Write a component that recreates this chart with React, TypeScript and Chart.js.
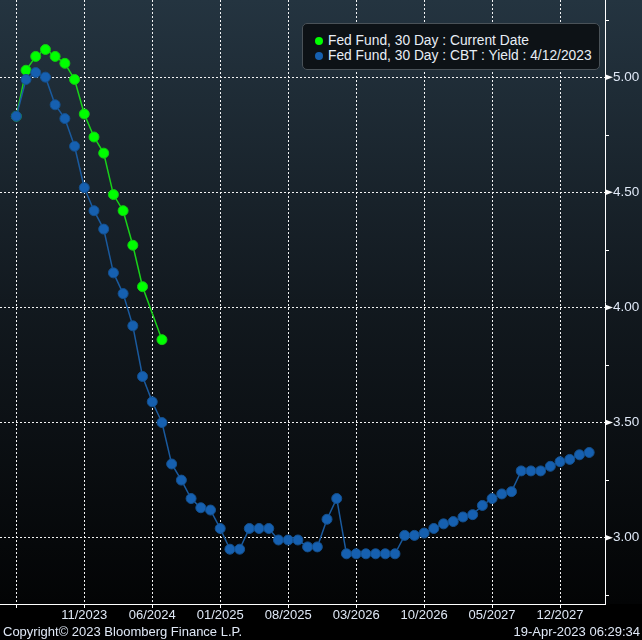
import React, { useEffect, useRef } from 'react';
import { Chart, registerables } from 'chart.js';

Chart.register(...registerables);

// Contract months (x axis categories)
const months = [
  '04/2023', '05/2023', '06/2023', '07/2023', '08/2023', '09/2023', '10/2023', '11/2023', '12/2023',
  '01/2024', '02/2024', '03/2024', '04/2024', '05/2024', '06/2024', '07/2024', '08/2024', '09/2024', '10/2024', '11/2024', '12/2024',
  '01/2025', '02/2025', '03/2025', '04/2025', '05/2025', '06/2025', '07/2025', '08/2025', '09/2025', '10/2025', '11/2025', '12/2025',
  '01/2026', '02/2026', '03/2026', '04/2026', '05/2026', '06/2026', '07/2026', '08/2026', '09/2026', '10/2026', '11/2026', '12/2026',
  '01/2027', '02/2027', '03/2027', '04/2027', '05/2027', '06/2027', '07/2027', '08/2027', '09/2027', '10/2027', '11/2027', '12/2027',
  '01/2028', '02/2028', '03/2028',
];

// Fed Fund, 30 Day : Current Date
const currentCurve: (number | null)[] = [
  4.83, 5.03, 5.09, 5.12, 5.09, 5.06, 4.99, 4.84, 4.74, 4.67, 4.49, 4.42, 4.27, 4.09, null, 3.86,
];

// Fed Fund, 30 Day : CBT : Yield : 4/12/2023
const cbtCurve: number[] = [
  4.83, 4.99, 5.02, 5.0, 4.88, 4.82, 4.7, 4.52, 4.42, 4.34,
  4.15, 4.06, 3.92, 3.7, 3.59, 3.5, 3.32, 3.25, 3.17, 3.13,
  3.12, 3.04, 2.95, 2.95, 3.04, 3.04, 3.04, 2.99, 2.99, 2.99,
  2.96, 2.96, 3.08, 3.17, 2.93, 2.93, 2.93, 2.93, 2.93, 2.93,
  3.01, 3.01, 3.02, 3.04, 3.06, 3.07, 3.09, 3.1, 3.14, 3.17,
  3.19, 3.2, 3.29, 3.29, 3.29, 3.31, 3.33, 3.34, 3.36, 3.37,
];

const xTickMonths = ['04/2023', '11/2023', '06/2024', '01/2025', '08/2025', '03/2026', '10/2026', '05/2027', '12/2027'];
const yTickValues = [2.75, 3.0, 3.25, 3.5, 3.75, 4.0, 4.25, 4.5, 4.75, 5.0, 5.25];

const seriesLabels = ['Fed Fund, 30 Day : Current Date', 'Fed Fund, 30 Day : CBT : Yield : 4/12/2023'];
const seriesColors = ['#00ff00', '#1660b0'];
const lineColors = ['#19d219', '#1a5a9e'];
const pointBorders = ['#14c814', '#14508e'];

const FONT = '"Liberation Sans", Arial, sans-serif';
const TEXT = '#dfe8f6';

const isMajor = (v: number) => Math.abs(v * 2 - Math.round(v * 2)) < 1e-6;

const zeroPad = (scale: any) => {
  scale.paddingLeft = 0;
  scale.paddingRight = 0;
  scale.paddingTop = 0;
  scale.paddingBottom = 0;
};

export default function App() {
  const ref = useRef<HTMLCanvasElement>(null);

  useEffect(() => {
    if (!ref.current) return;

    const bgPlugin = {
      id: 'bgPlugin',
      beforeDraw(chart: any) {
        const { ctx, width, height, chartArea } = chart;
        ctx.save();
        ctx.fillStyle = '#000';
        ctx.fillRect(0, 0, width, height);
        const g = ctx.createLinearGradient(0, 0, 0, chartArea.bottom);
        g.addColorStop(0, '#243440');
        g.addColorStop(0.5, '#12191f');
        g.addColorStop(1, '#030405');
        ctx.fillStyle = g;
        ctx.fillRect(0, 0, width, chartArea.bottom);
        ctx.restore();
      },
    };

    const markerPlugin = {
      id: 'markerPlugin',
      afterDraw(chart: any) {
        const ys = chart.scales.y;
        const ctx = chart.ctx;
        const x0 = ys.left;
        ctx.save();
        ctx.fillStyle = '#ffffff';
        ctx.strokeStyle = '#ffffff';
        ctx.lineWidth = 1;
        ys.ticks.forEach((t: any) => {
          const py = ys.getPixelForValue(t.value);
          if (isMajor(t.value)) {
            ctx.beginPath();
            ctx.moveTo(x0, py - 3);
            ctx.lineTo(x0 + 8, py);
            ctx.lineTo(x0, py + 3);
            ctx.closePath();
            ctx.fill();
          } else {
            ctx.beginPath();
            ctx.moveTo(x0, Math.round(py) + 0.5);
            ctx.lineTo(x0 + 4, Math.round(py) + 0.5);
            ctx.stroke();
          }
        });
        ctx.restore();
      },
    };

    const toPoints = (arr: (number | null)[]) => arr.map((v, i) => ({ x: i, y: v }));

    const chart = new Chart(ref.current, {
      type: 'line',
      data: {
        datasets: [
          {
            label: seriesLabels[0],
            data: toPoints(currentCurve) as any,
            borderColor: lineColors[0],
            backgroundColor: seriesColors[0],
            pointBackgroundColor: seriesColors[0],
            pointBorderColor: pointBorders[0],
            pointBorderWidth: 1,
            pointRadius: 5,
            borderWidth: 1.5,
            spanGaps: true,
            order: 1,
          },
          {
            label: seriesLabels[1],
            data: toPoints(cbtCurve) as any,
            borderColor: lineColors[1],
            backgroundColor: seriesColors[1],
            pointBackgroundColor: seriesColors[1],
            pointBorderColor: pointBorders[1],
            pointBorderWidth: 1,
            pointRadius: 5,
            borderWidth: 1.5,
            order: 0,
          },
        ],
      },
      options: {
        animation: false,
        responsive: true,
        maintainAspectRatio: false,
        layout: { padding: 0, autoPadding: false },
        clip: false,
        plugins: {
          legend: { display: false },
          tooltip: { enabled: false },
        },
        scales: {
          x: {
            type: 'linear',
            min: -1.68,
            max: 60.63,
            afterBuildTicks(scale: any) {
              scale.ticks = xTickMonths.map((m) => ({ value: months.indexOf(m) }));
            },
            afterFit(scale: any) {
              scale.height = 36;
              zeroPad(scale);
            },
            ticks: {
              autoSkip: false,
              maxRotation: 0,
              color: TEXT,
              font: { family: FONT, size: 13 },
              padding: 0,
              callback: (v: any) => {
                const i = Number(v);
                return i === 0 ? '' : months[i];
              },
            },
            grid: {
              color: 'rgba(255,255,255,0.95)',
              lineWidth: 1,
              tickLength: 4,
              tickColor: '#ffffff',
              tickBorderDash: [],
            },
            border: {
              display: true,
              color: '#ffffff',
              width: 1,
              dash: [2, 2],
            },
          },
          y: {
            type: 'linear',
            position: 'right',
            min: 2.712,
            max: 5.335,
            afterBuildTicks(scale: any) {
              scale.ticks = yTickValues.map((v) => ({ value: v }));
            },
            afterFit(scale: any) {
              scale.width = 37;
              zeroPad(scale);
            },
            ticks: {
              color: TEXT,
              font: { family: FONT, size: 13.5 },
              padding: 2,
              callback: (v: any) => (isMajor(Number(v)) ? Number(v).toFixed(2) : ''),
            },
            grid: {
              color: (ctx: any) => (ctx.tick && isMajor(ctx.tick.value) ? 'rgba(255,255,255,0.95)' : 'transparent'),
              lineWidth: 1,
              tickLength: 6,
              tickColor: 'transparent',
            },
            border: {
              display: true,
              color: '#ffffff',
              width: 1,
              dash: [2, 2],
            },
          },
        },
      },
      plugins: [bgPlugin, markerPlugin],
    } as any);

    return () => chart.destroy();
  }, []);

  return (
    <div style={{ position: 'fixed', left: 0, top: 0, width: 642, height: 640, background: '#000' }}>
      <canvas ref={ref} />
      <div
        style={{
          position: 'absolute',
          left: 302,
          top: 23,
          width: 298,
          height: 47,
          boxSizing: 'border-box',
          background: '#0d1216',
          border: '1px solid #4a5258',
          borderRadius: 5,
          padding: '9px 0 0 12px',
          fontFamily: FONT,
          fontSize: 13.8,
          color: '#e8eef5',
        }}
      >
        {seriesLabels.map((label, i) => (
          <div key={label} style={{ display: 'flex', alignItems: 'center', height: 15, whiteSpace: 'nowrap' }}>
            <span
              style={{
                display: 'inline-block',
                width: 8,
                height: 8,
                borderRadius: 4,
                background: seriesColors[i],
                marginRight: 5,
              }}
            />
            <span>{label}</span>
          </div>
        ))}
      </div>
      <div
        style={{
          position: 'absolute',
          left: 3,
          top: 624,
          fontFamily: FONT,
          fontSize: 13,
          lineHeight: '15px',
          color: TEXT,
          whiteSpace: 'nowrap',
        }}
      >
        Copyright© 2023 Bloomberg Finance L.P.
      </div>
      <div
        style={{
          position: 'absolute',
          right: 2,
          top: 624,
          fontFamily: FONT,
          fontSize: 13,
          lineHeight: '15px',
          color: TEXT,
          whiteSpace: 'nowrap',
        }}
      >
        19-Apr-2023 06:29:34
      </div>
    </div>
  );
}
